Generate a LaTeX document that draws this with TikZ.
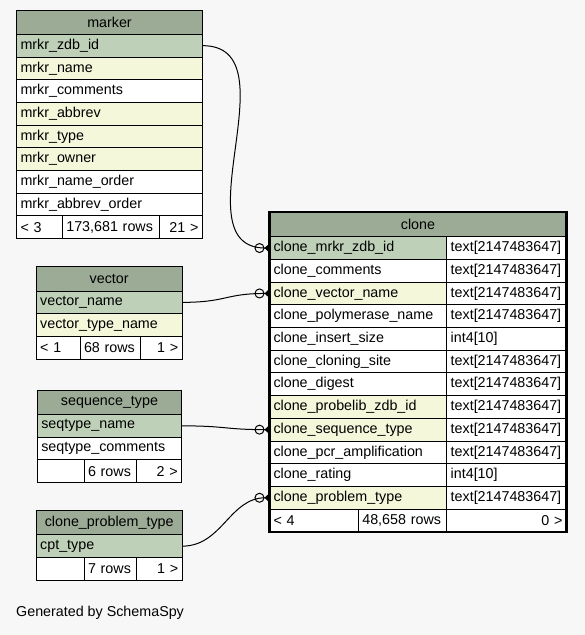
\documentclass[tikz,border=0pt]{standalone}
\usepackage{fontspec}
\setmainfont{Liberation Sans}
\usetikzlibrary{arrows.meta}
\definecolor{bggray}{HTML}{F7F7F7}
\definecolor{headgreen}{HTML}{9BAB96}
\definecolor{pkgreen}{HTML}{BED1B8}
\definecolor{idxyellow}{HTML}{F4F7DA}

\tikzset{
  cell/.style={draw=black, line width=1pt, anchor=north west, outer sep=0pt,
    inner xsep=4pt, inner ysep=0pt, minimum height=22.7pt, text width=#1,
    align=left, font=\fontsize{14.3}{16}\selectfont},
  hcell/.style={cell=#1, fill=headgreen, align=center, minimum height=24.3pt},
  pcell/.style={cell=#1, fill=pkgreen},
  icell/.style={cell=#1, fill=idxyellow},
  wcell/.style={cell=#1, fill=white},
  rcell/.style={cell=#1, fill=white, align=right},
  fk/.style={line width=1pt,
    -{Circle[open,length=10pt,width=10pt,line width=1pt] Triangle[reversed,length=5pt,width=9pt]}},
}

\begin{document}
\begin{tikzpicture}[x=1pt,y=-1pt]
\fill[bggray] (0,0) rectangle (585,635);
\useasboundingbox (0,0) rectangle (585,635);

% marker
\node[hcell=178] (m-head) at (16.5,10) {marker};
\node[pcell=178] (m-zdb) at (16.5,34.3) {mrkr\_zdb\_id};
\node[icell=178] (m-name) at (16.5,57.0) {mrkr\_name};
\node[wcell=178] (m-comm) at (16.5,79.7) {mrkr\_comments};
\node[icell=178] (m-abbr) at (16.5,102.4) {mrkr\_abbrev};
\node[icell=178] (m-type) at (16.5,125.1) {mrkr\_type};
\node[icell=178] (m-own) at (16.5,147.8) {mrkr\_owner};
\node[wcell=178] (m-nord) at (16.5,170.5) {mrkr\_name\_order};
\node[wcell=178] (m-aord) at (16.5,193.2) {mrkr\_abbrev\_order};
\node[wcell=37.8] (m-foot1) at (16.5,215.9) {< 3};
\node[wcell=88.7] (m-foot2) at (62.3,215.9) {173,681 rows};
\node[rcell=35.5] (m-foot3) at (159,215.9) {21 >};

% vector
\node[hcell=138] (v-head) at (36.2,266.7) {vector};
\node[pcell=138] (v-name) at (36.2,291.0) {vector\_name};
\node[icell=138] (v-type) at (36.2,313.7) {vector\_type\_name};
\node[wcell=35.8] (v-foot1) at (36.2,336.4) {< 1};
\node[wcell=52] (v-foot2) at (80,336.4) {68 rows};
\node[rcell=34.2] (v-foot3) at (140,336.4) {1 >};

% sequence_type
\node[hcell=136.4, minimum height=23.8pt] (s-head) at (37.3,390.7) {sequence\_type};
\node[pcell=136.4] (s-name) at (37.3,414.5) {seqtype\_name};
\node[wcell=136.4] (s-comm) at (37.3,437.2) {seqtype\_comments};
\node[wcell=38.7] (s-foot1) at (37.3,459.9) {};
\node[wcell=44] (s-foot2) at (84,459.9) {6 rows};
\node[rcell=37.7] (s-foot3) at (136,459.9) {2 >};

% clone_problem_type
\node[hcell=138] (p-head) at (36.2,510.5) {clone\_problem\_type};
\node[pcell=138] (p-type) at (36.2,534.8) {cpt\_type};
\node[wcell=39.8] (p-foot1) at (36.2,557.5) {};
\node[wcell=44] (p-foot2) at (84,557.5) {7 rows};
\node[rcell=38.2] (p-foot3) at (136,557.5) {1 >};

% clone
\node[hcell=289, minimum height=24.7pt] (c-head) at (269.5,212) {clone};
\node[pcell=169.2] (c-mrkr) at (269.5,236.7) {clone\_mrkr\_zdb\_id};
\node[wcell=111.8] (c-mrkr-t) at (446.7,236.7) {text[2147483647]};
\node[wcell=169.2] (c-comm) at (269.5,259.4) {clone\_comments};
\node[wcell=111.8] (c-comm-t) at (446.7,259.4) {text[2147483647]};
\node[icell=169.2] (c-vec) at (269.5,282.1) {clone\_vector\_name};
\node[wcell=111.8] (c-vec-t) at (446.7,282.1) {text[2147483647]};
\node[wcell=169.2] (c-poly) at (269.5,304.8) {clone\_polymerase\_name};
\node[wcell=111.8] (c-poly-t) at (446.7,304.8) {text[2147483647]};
\node[wcell=169.2] (c-ins) at (269.5,327.5) {clone\_insert\_size};
\node[wcell=111.8] (c-ins-t) at (446.7,327.5) {int4[10]};
\node[wcell=169.2] (c-site) at (269.5,350.2) {clone\_cloning\_site};
\node[wcell=111.8] (c-site-t) at (446.7,350.2) {text[2147483647]};
\node[wcell=169.2] (c-dig) at (269.5,372.9) {clone\_digest};
\node[wcell=111.8] (c-dig-t) at (446.7,372.9) {text[2147483647]};
\node[icell=169.2] (c-plib) at (269.5,395.6) {clone\_probelib\_zdb\_id};
\node[wcell=111.8] (c-plib-t) at (446.7,395.6) {text[2147483647]};
\node[icell=169.2] (c-seq) at (269.5,418.3) {clone\_sequence\_type};
\node[wcell=111.8] (c-seq-t) at (446.7,418.3) {text[2147483647]};
\node[wcell=169.2] (c-pcr) at (269.5,441.0) {clone\_pcr\_amplification};
\node[wcell=111.8] (c-pcr-t) at (446.7,441.0) {text[2147483647]};
\node[wcell=169.2] (c-rate) at (269.5,463.7) {clone\_rating};
\node[wcell=111.8] (c-rate-t) at (446.7,463.7) {int4[10]};
\node[icell=169.2] (c-prob) at (269.5,486.4) {clone\_problem\_type};
\node[wcell=111.8] (c-prob-t) at (446.7,486.4) {text[2147483647]};
\node[wcell=80.8] (c-foot1) at (269.5,509.1) {< 4};
\node[wcell=80.4] (c-foot2) at (358.3,509.1) {48,658 rows};
\node[rcell=111.8] (c-foot3) at (446.7,509.1) {0 >};
\draw[line width=2.5pt] (c-head.north west) rectangle (c-foot3.south east);

% foreign keys
\draw[fk] (m-zdb.east) .. controls +(92,0) and +(-92,0) .. (c-mrkr.west);
\draw[fk] (v-name.east) .. controls +(45,0) and +(-45,0) .. (c-vec.west);
\draw[fk] (s-name.east) .. controls +(45,0) and +(-45,0) .. (c-seq.west);
\draw[fk] (p-type.east) .. controls +(40,0) and +(-40,0) .. (c-prob.west);

\node[anchor=west, inner sep=0pt, font=\fontsize{14.3}{16}\selectfont] (gen) at (16,613) {Generated by SchemaSpy};
\end{tikzpicture}
\end{document}
